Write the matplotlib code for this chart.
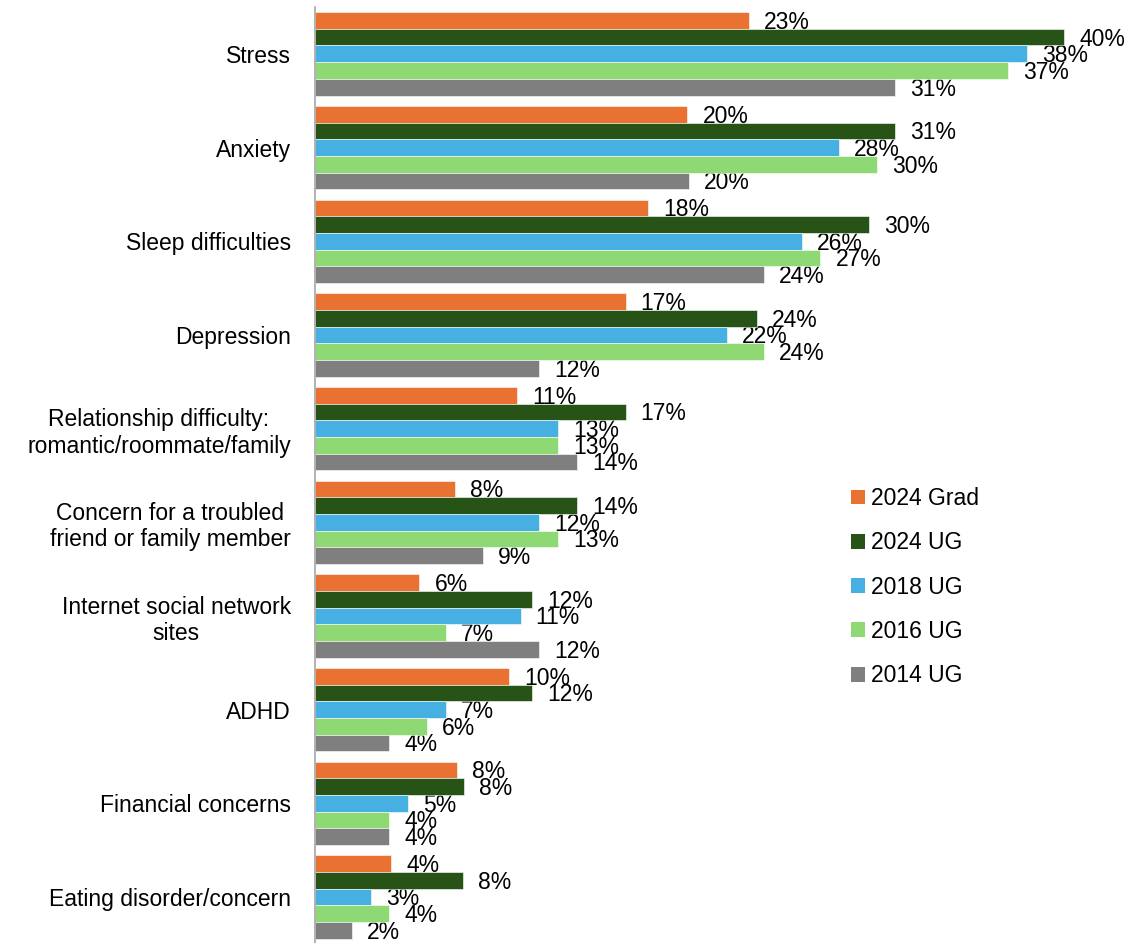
import matplotlib
matplotlib.use("Agg")
import matplotlib.pyplot as plt
from matplotlib.patches import Patch
import numpy as np

plt.rcParams['font.family'] = ['Liberation Sans', 'DejaVu Sans']

categories = [
    "Stress",
    "Anxiety",
    "Sleep difficulties",
    "Depression",
    "Relationship difficulty:\nromantic/roommate/family",
    "Concern for a troubled\nfriend or family member",
    "Internet social network\nsites",
    "ADHD",
    "Financial concerns",
    "Eating disorder/concern",
]

series_names = ["2024 Grad", "2024 UG", "2018 UG", "2016 UG", "2014 UG"]

grad_2024 = [23.2, 19.9, 17.8, 16.6, 10.8, 7.5, 5.6, 10.4, 7.6, 4.1]
ug_2024 = [40.0, 31.0, 29.6, 23.6, 16.6, 14.0, 11.6, 11.6, 8.0, 7.9]
ug_2018 = [38, 28, 26, 22, 13, 12, 11, 7, 5, 3]
ug_2016 = [37, 30, 27, 24, 13, 13, 7, 6, 4, 4]
ug_2014 = [31, 20, 24, 12, 14, 9, 12, 4, 4, 2]

colors = ["#E97132", "#275317", "#45B0E1", "#8ED973", "#7F7F7F"]

all_series = [grad_2024, ug_2024, ug_2018, ug_2016, ug_2014]

fs = 16.5

fig = plt.figure(figsize=(11.33, 9.43), dpi=100)
ax = fig.add_axes([0.2776, -0.001, 0.7112, 0.9936])

y = np.arange(len(categories))
h = 0.178

for j, (vals, col) in enumerate(zip(all_series, colors)):
    pos = y + (j - 2) * h
    ax.barh(pos, vals, height=h, color=col, edgecolor='white', linewidth=0.4, zorder=2)
    for p, v in zip(pos, vals):
        # labels sit under the bars, like in the original
        ax.text(v + 0.8, p + 0.02, f"{int(v + 0.5)}%", va='center', ha='left',
                fontsize=fs, color='black', zorder=1)

ax.set_xlim(0, 43)
ax.set_ylim(len(categories) - 0.5, -0.5)
ax.set_yticks(y)
ax.set_yticklabels(categories, fontsize=fs, ha='right', multialignment='center')
ax.tick_params(axis='y', length=0, pad=17)
ax.set_xticks([])

for s in ['top', 'right', 'bottom']:
    ax.spines[s].set_visible(False)
ax.spines['left'].set_color('#A6A6A6')
ax.spines['left'].set_linewidth(1.2)
ax.spines['left'].set_zorder(3)

handles = [Patch(facecolor=c, edgecolor='none') for c in colors]
fig.legend(handles, series_names, loc='upper left',
           bbox_to_anchor=(851 / 1133, 1 - 487 / 943), frameon=False,
           fontsize=fs, handlelength=0.62, handleheight=0.62,
           handletextpad=0.25, labelspacing=0.93, borderpad=0, borderaxespad=0)

fig.savefig("out.png", dpi=100)
